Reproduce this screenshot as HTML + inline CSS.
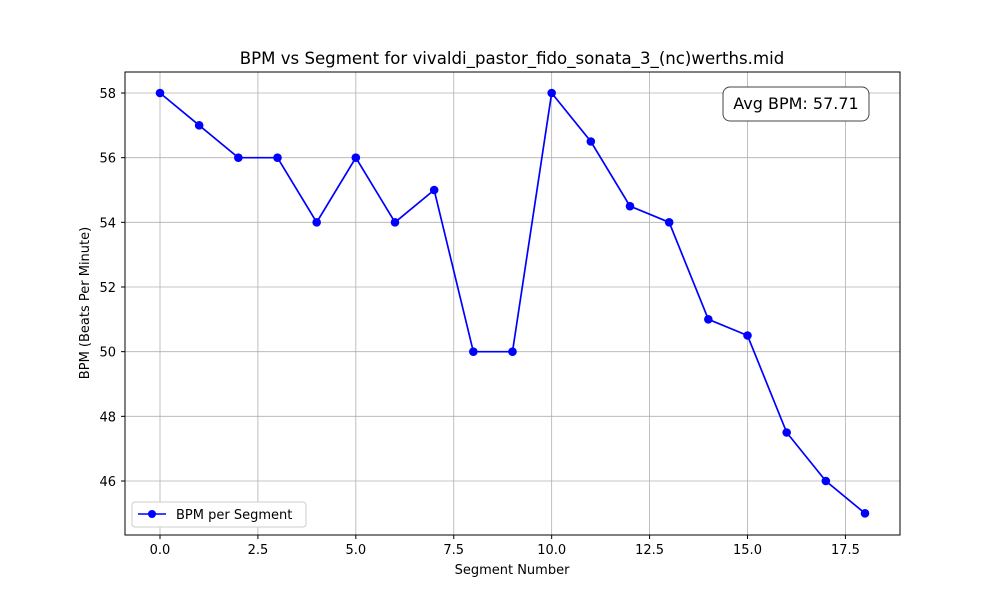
<!DOCTYPE html>
<html><head><meta charset="utf-8"><style>
body{margin:0;background:#fff;font-family:"DejaVu Sans","Liberation Sans",sans-serif;}
</style></head><body>
<svg id="chart" width="1000" height="600" xmlns="http://www.w3.org/2000/svg">
<rect width="1000" height="600" fill="#fff"/>
<text x="512" y="64" text-anchor="middle" font-size="16.6">BPM vs Segment for vivaldi_pastor_fido_sonata_3_(nc)werths.mid</text>
<g id="grid"></g>
<g id="ticks"></g>
<rect x="125" y="72" width="775" height="463" fill="none" stroke="#000" stroke-width="1"/>
<g id="series"></g>
<text x="512" y="574" text-anchor="middle" font-size="13">Segment Number</text>
<text transform="translate(89,303) rotate(-90)" text-anchor="middle" font-size="13">BPM (Beats Per Minute)</text>
<g>
<rect x="723" y="87" width="146" height="34" rx="7" fill="#fff" stroke="#444" stroke-width="1"/>
<text x="796" y="109" text-anchor="middle" font-size="16">Avg BPM: 57.71</text>
</g>
<g>
<rect x="132" y="502" width="174" height="25" rx="3" fill="#fff" stroke="#ccc"/>
<line x1="138" y1="514" x2="166" y2="514" stroke="#0000ff" stroke-width="1.5"/>
<circle cx="152" cy="514" r="4" fill="#0000ff"/>
<text x="176" y="519" font-size="13">BPM per Segment</text>
</g>
</svg>
<script>
const segments=[0,1,2,3,4,5,6,7,8,9,10,11,12,13,14,15,16,17,18];
const bpmValues=[58,57,56,56,54,56,54,55,50,50,58,56.5,54.5,54,51,50.5,47.5,46,45];
const xTicks=[0,2.5,5,7.5,10,12.5,15,17.5];
const xTickLabels=["0.0","2.5","5.0","7.5","10.0","12.5","15.0","17.5"];
const yTicks=[46,48,50,52,54,56,58];
const NS="http://www.w3.org/2000/svg";
const xs=v=>160+(v-0)*(705/18);
const ys=v=>93+(58-v)*(388/12);
function mk(tag,attrs,parent){const e=document.createElementNS(NS,tag);for(const k in attrs)e.setAttribute(k,attrs[k]);parent.appendChild(e);return e;}
const grid=document.getElementById('grid'),ticks=document.getElementById('ticks'),series=document.getElementById('series');
xTicks.forEach((t,i)=>{const x=xs(t);
const g=mk('line',{x1:x,x2:x,y1:72,y2:535,stroke:'#b0b0b0','stroke-width':0.8},grid);


mk('line',{x1:x,x2:x,y1:535,y2:539,stroke:'#000'},ticks);
const l=mk('text',{x:x,y:554,'text-anchor':'middle','font-size':13},ticks);l.textContent=xTickLabels[i];

});
yTicks.forEach(t=>{const y=ys(t);
const g=mk('line',{x1:125,x2:900,y1:y,y2:y,stroke:'#b0b0b0','stroke-width':0.8},grid);


mk('line',{x1:121,x2:125,y1:y,y2:y,stroke:'#000'},ticks);
const l=mk('text',{x:116,y:y+5,'text-anchor':'end','font-size':13},ticks);l.textContent=String(t);

});
const pts=segments.map((s,i)=>xs(s)+','+ys(bpmValues[i])).join(' ');
const pl=mk('polyline',{points:pts,fill:'none',stroke:'#0000ff','stroke-width':1.7},series);


segments.forEach((s,i)=>{const c=mk('circle',{cx:xs(s),cy:ys(bpmValues[i]),r:4.3,fill:'#0000ff'},series);

});
</script>
</body></html>
